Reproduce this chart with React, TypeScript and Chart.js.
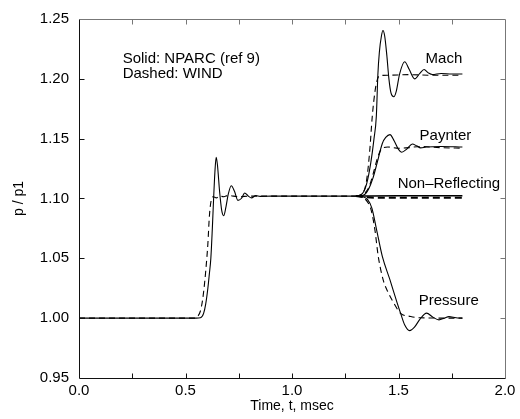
import { useEffect, useRef } from "react";
import { Chart, registerables } from "chart.js";

Chart.register(...registerables);

// ---------- data (time in msec, p/p1) ----------
// Common part (all boundary conditions coincide up to t = 1.3 ms)
const nparcEarlyT = [0, 0.55, 0.57, 0.585, 0.595, 0.605, 0.612, 0.619, 0.626, 0.632, 0.638, 0.644, 0.65, 0.66, 0.67, 0.679, 0.69, 0.70, 0.715, 0.73, 0.746, 0.762, 0.778, 0.795, 0.81, 0.83, 0.85, 0.9, 1.0, 1.1, 1.2, 1.3];
const nparcEarlyP = [1.0, 1.0, 1.0003, 1.004, 1.012, 1.025, 1.037, 1.05, 1.075, 1.1, 1.122, 1.1344, 1.128, 1.106, 1.09, 1.0856, 1.093, 1.103, 1.1107, 1.106, 1.0984, 1.1, 1.1046, 1.102, 1.1005, 1.1025, 1.1018, 1.102, 1.102, 1.102, 1.102, 1.102];
const windEarlyT = [0, 0.54, 0.555, 0.57, 0.58, 0.59, 0.60, 0.605, 0.612, 0.62, 0.63, 0.645, 0.66, 0.68, 0.70, 0.75, 0.8, 1.0, 1.3];
const windEarlyP = [1.0, 1.0, 1.001, 1.006, 1.015, 1.03, 1.05, 1.062, 1.085, 1.098, 1.1015, 1.1005, 1.102, 1.1015, 1.1025, 1.1015, 1.102, 1.102, 1.102];

// Mach
const machNparcT = [1.3, 1.33, 1.35, 1.37, 1.385, 1.396, 1.403, 1.41, 1.42, 1.427, 1.435, 1.445, 1.455, 1.465, 1.478, 1.49, 1.505, 1.529, 1.55, 1.576, 1.6, 1.62, 1.64, 1.659, 1.70, 1.75, 1.8];
const machNparcP = [1.102, 1.104, 1.112, 1.13, 1.15, 1.169, 1.203, 1.222, 1.236, 1.2404, 1.236, 1.22, 1.2, 1.188, 1.185, 1.19, 1.204, 1.2143, 1.208, 1.2, 1.2045, 1.2078, 1.205, 1.2036, 1.2045, 1.204, 1.204];
const machWindT = [1.3, 1.33, 1.35, 1.365, 1.377, 1.39, 1.40, 1.41, 1.45, 1.55, 1.65, 1.8];
const machWindP = [1.102, 1.104, 1.115, 1.14, 1.169, 1.19, 1.199, 1.2025, 1.203, 1.2035, 1.203, 1.203];

// Paynter
const paynterNparcT = [1.3, 1.337, 1.36, 1.38, 1.40, 1.424, 1.44, 1.46, 1.48, 1.50, 1.515, 1.54, 1.565, 1.585, 1.604, 1.63, 1.7, 1.8];
const paynterNparcP = [1.102, 1.103, 1.108, 1.117, 1.13, 1.146, 1.151, 1.1534, 1.148, 1.141, 1.1386, 1.1415, 1.1456, 1.144, 1.1423, 1.143, 1.1435, 1.143];
const paynterWindT = [1.3, 1.33, 1.36, 1.38, 1.40, 1.415, 1.43, 1.45, 1.5, 1.55, 1.6, 1.65, 1.7, 1.8];
const paynterWindP = [1.102, 1.103, 1.109, 1.12, 1.133, 1.14, 1.1425, 1.143, 1.142, 1.1425, 1.1435, 1.143, 1.1425, 1.142];

// Non-Reflecting
const nonReflNparcT = [1.3, 1.5, 1.8];
const nonReflNparcP = [1.102, 1.1022, 1.1022];
const nonReflWindT = [1.3, 1.35, 1.40, 1.8];
const nonReflWindP = [1.102, 1.101, 1.1007, 1.1007];

// Pressure
const pressNparcT = [1.3, 1.33, 1.355, 1.375, 1.397, 1.424, 1.46, 1.494, 1.51, 1.53, 1.552, 1.575, 1.6, 1.632, 1.66, 1.69, 1.715, 1.737, 1.77, 1.8];
const pressNparcP = [1.102, 1.1015, 1.099, 1.092, 1.074, 1.0516, 1.032, 1.0126, 1.004, 0.994, 0.9896, 0.9925, 0.999, 1.0042, 1.001, 0.9986, 1.0, 1.0013, 1.0003, 1.0];
const pressWindT = [1.3, 1.335, 1.355, 1.372, 1.389, 1.405, 1.428, 1.45, 1.478, 1.51, 1.557, 1.6, 1.8];
const pressWindP = [1.102, 1.1005, 1.097, 1.09, 1.074, 1.0516, 1.032, 1.022, 1.0126, 1.004, 1.0014, 1.0003, 1.0];

// Axes
const xTickValues = [0, 0.5, 1.0, 1.5, 2.0];
const yTickValues = [0.95, 1.0, 1.05, 1.1, 1.15, 1.2, 1.25];
const xMarkValues = [0.25, 0.5, 0.75, 1.0, 1.25, 1.5, 1.75];
const yMarkValues = [1.0, 1.05, 1.1, 1.15, 1.2];

// Labels
const legendLines = ["Solid: NPARC (ref 9)", "Dashed: WIND"];
const legendAnchorsY = [1.2136, 1.201];
const curveLabels = ["Mach", "Paynter", "Non\u2013Reflecting", "Pressure"];
const curveLabelAnchors = [
  [1.627, 1.2136],
  [1.599, 1.1492],
  [1.496, 1.109],
  [1.595, 1.0111],
];

const FONT = '"Liberation Sans", Arial, Helvetica, sans-serif';

function pts(t: number[], p: number[]) {
  return t.map((x, i) => ({ x, y: p[i] }));
}

const framePlugin = {
  id: "frameAndNotes",
  afterDraw(chart: any) {
    const { ctx, chartArea } = chart;
    const xs = chart.scales.x;
    const ys = chart.scales.y;
    const L = Math.round(chartArea.left) + 0.5;
    const R = Math.round(chartArea.right) + 0.5;
    const T = Math.round(chartArea.top) + 0.5;
    const B = Math.round(chartArea.bottom) + 0.5;
    const tl = 5;
    ctx.save();
    ctx.lineWidth = 1;
    // top & right (lighter)
    ctx.strokeStyle = "#777";
    ctx.beginPath();
    ctx.moveTo(L, T);
    ctx.lineTo(R, T);
    ctx.lineTo(R, B);
    for (const v of xMarkValues) {
      const px = Math.round(xs.getPixelForValue(v)) + 0.5;
      ctx.moveTo(px, T);
      ctx.lineTo(px, T + tl);
    }
    for (const v of yMarkValues) {
      const py = Math.round(ys.getPixelForValue(v)) + 0.5;
      ctx.moveTo(R, py);
      ctx.lineTo(R - tl, py);
    }
    ctx.stroke();
    // left & bottom
    ctx.strokeStyle = "#111";
    ctx.beginPath();
    ctx.moveTo(L, T);
    ctx.lineTo(L, B);
    ctx.lineTo(R, B);
    for (const v of xMarkValues) {
      const px = Math.round(xs.getPixelForValue(v)) + 0.5;
      ctx.moveTo(px, B);
      ctx.lineTo(px, B - tl);
    }
    for (const v of yMarkValues) {
      const py = Math.round(ys.getPixelForValue(v)) + 0.5;
      ctx.moveTo(L, py);
      ctx.lineTo(L + tl, py);
    }
    ctx.stroke();

    // annotations
    ctx.fillStyle = "#000";
    ctx.font = "15px " + FONT;
    ctx.textAlign = "left";
    ctx.textBaseline = "alphabetic";
    const lx = xs.getPixelForValue(0.205);
    legendLines.forEach((txt, i) => {
      ctx.fillText(txt, lx, ys.getPixelForValue(legendAnchorsY[i]));
    });
    curveLabels.forEach((txt, i) => {
      const [ax, ay] = curveLabelAnchors[i];
      ctx.fillText(txt, xs.getPixelForValue(ax), ys.getPixelForValue(ay));
    });
    ctx.restore();
  },
};

export default function App() {
  const ref = useRef<HTMLCanvasElement | null>(null);

  useEffect(() => {
    if (!ref.current) return;
    const solid = (t: number[], p: number[], w = 1.1) => ({
      data: pts(t, p),
      borderColor: "#000",
      borderWidth: w,
      pointRadius: 0,
      fill: false,
      cubicInterpolationMode: "monotone" as const,
    });
    const dashed = (t: number[], p: number[], w = 1.1, dash = [6, 4]) => ({
      data: pts(t, p),
      borderColor: "#000",
      borderWidth: w,
      borderDash: dash,
      pointRadius: 0,
      fill: false,
      cubicInterpolationMode: "monotone" as const,
    });

    const chart = new Chart(ref.current, {
      type: "line",
      data: {
        datasets: [
          { label: "WIND", ...dashed(windEarlyT, windEarlyP) },
          { label: "NPARC", ...solid(nparcEarlyT, nparcEarlyP) },
          { label: "Mach WIND", ...dashed(machWindT, machWindP) },
          { label: "Mach NPARC", ...solid(machNparcT, machNparcP) },
          { label: "Paynter WIND", ...dashed(paynterWindT, paynterWindP) },
          { label: "Paynter NPARC", ...solid(paynterNparcT, paynterNparcP) },
          { label: "Non-Reflecting WIND", ...dashed(nonReflWindT, nonReflWindP, 2, [7, 4]) },
          { label: "Non-Reflecting NPARC", ...solid(nonReflNparcT, nonReflNparcP, 1.5) },
          { label: "Pressure WIND", ...dashed(pressWindT, pressWindP) },
          { label: "Pressure NPARC", ...solid(pressNparcT, pressNparcP) },
        ],
      },
      options: {
        responsive: false,
        animation: false,
        devicePixelRatio: 1,
        layout: { padding: { left: 0, top: 19, right: 15, bottom: 0 } },
        plugins: {
          legend: { display: false },
          tooltip: { enabled: false },
        },
        scales: {
          x: {
            type: "linear",
            min: 0,
            max: 2,
            grid: { display: false, drawTicks: false },
            border: { display: false },
            afterBuildTicks: (s: any) => {
              s.ticks = xTickValues.map((v) => ({ value: v }));
            },
            afterFit: (s: any) => {
              s.height = 41;
            },
            ticks: {
              color: "#000",
              font: { family: FONT, size: 15 },
              padding: 4,
              maxRotation: 0,
              autoSkip: false,
              callback: (v: any) => Number(v).toFixed(1),
            },
            title: {
              display: true,
              text: "Time, t, msec",
              color: "#000",
              font: { family: FONT, size: 14 },
              padding: { top: 0, bottom: 4 },
            },
          },
          y: {
            type: "linear",
            min: 0.95,
            max: 1.25,
            grid: { display: false, drawTicks: false },
            border: { display: false },
            afterBuildTicks: (s: any) => {
              s.ticks = yTickValues.map((v) => ({ value: v }));
            },
            afterFit: (s: any) => {
              s.width = 79;
            },
            ticks: {
              color: "#000",
              font: { family: FONT, size: 15 },
              padding: 10,
              autoSkip: false,
              callback: (v: any) => Number(v).toFixed(2),
            },
            title: {
              display: true,
              text: "p / p1",
              color: "#000",
              font: { family: FONT, size: 14 },
              padding: { top: 11, bottom: 0 },
            },
          },
        },
      },
      plugins: [framePlugin],
    });
    return () => chart.destroy();
  }, []);

  return (
    <div style={{ position: "absolute", left: 0, top: 0, width: 520, height: 419, background: "#fff" }}>
      <canvas ref={ref} width={520} height={419} />
    </div>
  );
}
